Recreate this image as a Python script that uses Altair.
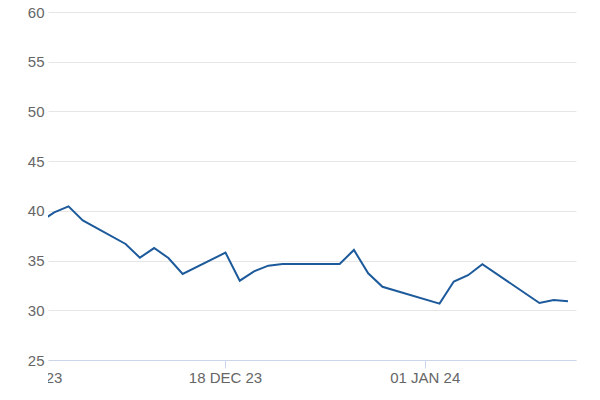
import altair as alt
import pandas as pd

# Series (trading days)
dates = ["2023-12-05", "2023-12-06", "2023-12-07", "2023-12-08", "2023-12-11",
         "2023-12-12", "2023-12-13", "2023-12-14", "2023-12-15", "2023-12-18",
         "2023-12-19", "2023-12-20", "2023-12-21", "2023-12-22", "2023-12-26",
         "2023-12-27", "2023-12-28", "2023-12-29", "2024-01-02", "2024-01-03",
         "2024-01-04", "2024-01-05", "2024-01-09", "2024-01-10", "2024-01-11"]
values = [38.9, 39.86, 40.46, 39.05, 36.68,
          35.30, 36.27, 35.27, 33.66, 35.81,
          32.99, 33.93, 34.50, 34.67, 34.67,
          36.08, 33.73, 32.38, 30.68, 32.90,
          33.54, 34.65, 30.75, 31.05, 30.91]

# X tick labels
tick_dates = ["2023-12-04", "2023-12-18", "2024-01-01"]
tick_labels = ["04 DEC 23", "18 DEC 23", "01 JAN 24"]

# Y ticks
y_ticks = [25, 30, 35, 40, 45, 50, 55, 60]

line_df = pd.DataFrame({"date": dates, "value": values})
tick_df = pd.DataFrame({"date": tick_dates, "label": tick_labels})

x_scale = alt.Scale(
    type="utc",
    domain=[alt.DateTime(year=2023, month=12, date=5, hours=13, minutes=30, utc=True),
            alt.DateTime(year=2024, month=1, date=11, hours=13, minutes=30, utc=True)],
)
y_scale = alt.Scale(domain=[22, 60], nice=False, zero=False)

x_axis = alt.Axis(
    title=None, labels=False, grid=False,
    values=[alt.DateTime(year=2023, month=12, date=18, utc=True),
            alt.DateTime(year=2024, month=1, date=1, utc=True)],
    domainColor="#ccd6eb", tickColor="#ccd6eb", tickSize=8, offset=-30,
)
y_axis = alt.Axis(
    title=None, values=y_ticks, grid=True, gridColor="#e6e6e6", domain=False,
    ticks=False, labelColor="#666666", labelFontSize=15, labelPadding=4,
    labelFont="Liberation Sans",
)

line = alt.Chart(line_df).mark_line(color="#1c5a9b", strokeWidth=2, clip=True).encode(
    x=alt.X("date:T", scale=x_scale, axis=x_axis),
    y=alt.Y("value:Q", scale=y_scale, axis=y_axis),
)

labels = alt.Chart(tick_df).mark_text(
    clip=True, align="center", baseline="alphabetic", fontSize=15,
    color="#666666", font="Liberation Sans",
).encode(
    x=alt.X("date:T", scale=x_scale, axis=x_axis),
    y=alt.YDatum(22.74),
    text="label:N",
)

chart = alt.layer(line, labels).properties(
    width=528, height=378,
    autosize=alt.AutoSizeParams(type="none"),
    padding={"left": 40, "top": 4, "right": 16, "bottom": 0},
).configure_view(stroke=None)

chart.save("out.html", embed_options={"renderer": "svg", "actions": False})
